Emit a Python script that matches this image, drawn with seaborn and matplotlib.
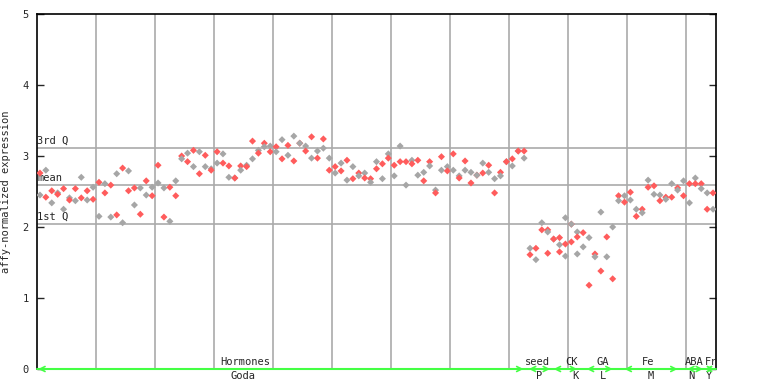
import numpy as np
import pandas as pd
import matplotlib
matplotlib.use("Agg")
import matplotlib.pyplot as plt
import seaborn as sns

# =========================
# Data
# =========================
# two replicate values per sample, sample index = position along x
rep_a = [2.76, 2.80, 2.51, 2.48, 2.54, 2.41, 2.54, 2.70, 2.51, 2.56,
         2.63, 2.61, 2.59, 2.75, 2.83, 2.79, 2.55, 2.55, 2.65, 2.56,
         2.87, 2.55, 2.56, 2.65, 3.00, 3.04, 3.08, 3.06, 3.01, 2.82,
         3.06, 3.03, 2.86, 2.69, 2.86, 2.87, 3.21, 3.08, 3.18, 3.14,
         3.13, 3.23, 3.15, 3.28, 3.18, 3.14, 3.27, 3.07, 3.24, 2.97,
         2.85, 2.90, 2.94, 2.85, 2.76, 2.76, 2.68, 2.92, 2.89, 3.03,
         2.87, 3.14, 2.92, 2.94, 2.94, 2.77, 2.92, 2.52, 2.99, 2.85,
         3.03, 2.72, 2.93, 2.77, 2.73, 2.90, 2.87, 2.68, 2.77, 2.92,
         2.96, 3.07, 3.07, 1.70, 1.70, 2.06, 1.96, 1.83, 1.85, 2.13,
         2.04, 1.93, 1.92, 1.85, 1.62, 2.21, 1.86, 2.00, 2.44, 2.44,
         2.49, 2.25, 2.25, 2.66, 2.58, 2.45, 2.42, 2.61, 2.55, 2.65,
         2.61, 2.69, 2.61, 2.48, 2.48]
rep_b = [2.45, 2.42, 2.34, 2.46, 2.25, 2.38, 2.37, 2.41, 2.38, 2.39,
         2.15, 2.48, 2.14, 2.17, 2.06, 2.51, 2.31, 2.18, 2.45, 2.44,
         2.62, 2.14, 2.08, 2.44, 2.96, 2.92, 2.85, 2.75, 2.85, 2.80,
         2.90, 2.90, 2.70, 2.69, 2.80, 2.85, 2.96, 3.04, 3.13, 3.06,
         3.06, 2.96, 3.01, 2.93, 3.18, 3.07, 2.97, 2.97, 3.11, 2.80,
         2.76, 2.79, 2.66, 2.68, 2.72, 2.69, 2.63, 2.82, 2.68, 2.97,
         2.72, 2.92, 2.59, 2.89, 2.73, 2.65, 2.86, 2.48, 2.80, 2.79,
         2.80, 2.69, 2.80, 2.62, 2.73, 2.76, 2.77, 2.48, 2.72, 2.92,
         2.86, 3.07, 2.97, 1.61, 1.54, 1.96, 1.93, 1.83, 1.75, 1.76,
         2.04, 1.86, 1.72, 1.18, 1.58, 1.38, 1.58, 1.27, 2.37, 2.35,
         2.38, 2.15, 2.20, 2.56, 2.46, 2.37, 2.39, 2.42, 2.52, 2.44,
         2.34, 2.61, 2.54, 2.25, 2.25]
# third replicate where present
extra_idx = [86, 88, 89, 90, 91]
extra_val = [1.63, 1.65, 1.59, 1.79, 1.62]

q1, mean_val, q3 = 2.04, 2.59, 3.11

top_labels = ["Hormones", "seed", "CK", "GA", "Fe", "ABA", "Fr"]
top_label_pos = [34.7, 84.2, 90.1, 95.4, 103.0, 110.8, 113.7]
bottom_labels = ["Goda", "P", "K", "L", "M", "N", "Y"]
bottom_label_pos = [34.4, 84.5, 90.6, 95.4, 103.5, 110.3, 113.3]
group_start = [-0.3, 82.8, 87.0, 92.6, 99.0, 109.6, 112.6]
group_end = [81.9, 86.4, 91.0, 97.0, 108.0, 112.3, 114.2]

# =========================
# Build long table
# =========================
n = len(rep_a)
df = pd.DataFrame({
    "sample": list(range(n)) * 2 + extra_idx,
    "expr": rep_a + rep_b + extra_val,
    "rep": ["a"] * n + ["b"] * n + ["a"] * len(extra_idx),
})
# alternate colours between samples like the reference
df["col"] = np.where((df["sample"] % 2 == 0) == (df["rep"] == "a"), "red", "grey")

# =========================
# Plot
# =========================
sns.set_style("white")
plt.rcParams["font.family"] = ["DejaVu Sans Mono"]

fig = plt.figure(figsize=(7.68, 3.84), dpi=100)
ax = fig.add_axes([37 / 768, 1 - 369 / 384, 679 / 768, 355 / 384])

sns.scatterplot(
    data=df, x="sample", y="expr", hue="col",
    palette={"red": "#ff5c5c", "grey": "#a6a6a6"},
    marker="D", s=13, linewidth=0, legend=False, ax=ax, zorder=3,
)

ax.set_xlim(-0.5, 114.5)
ax.set_ylim(0, 5)

# vertical grid lines every 10 samples
for gx in np.arange(9.5, 114.5, 10):
    ax.axvline(gx, color="#aaaaaa", lw=1.2, zorder=1)

# quartile / mean lines
for val, name in [(q3, "3rd Q"), (mean_val, "mean"), (q1, "1st Q")]:
    ax.axhline(val, color="#aaaaaa", lw=1.2, zorder=1)
    ax.text(-0.45, val + 0.03, name, fontsize=7.5, ha="left", va="bottom", zorder=2)

# group arrows and labels along the bottom
ax.axhline(0, color="#44ff44", lw=1.5, zorder=4, clip_on=False)
for s0, s1 in zip(group_start, group_end):
    ax.annotate("", xy=(s1, 0), xytext=(s0, 0),
                arrowprops=dict(arrowstyle="<->", color="#44ff44", lw=1.2,
                                shrinkA=0, shrinkB=0, mutation_scale=9),
                annotation_clip=False, zorder=5)
for lab, pos in zip(top_labels, top_label_pos):
    ax.text(pos, 0.03, lab, fontsize=7.5, ha="center", va="bottom", zorder=6)
for lab, pos in zip(bottom_labels, bottom_label_pos):
    ax.text(pos, -0.03, lab, fontsize=7.5, ha="center", va="top", clip_on=False)

ax.set_yticks([0, 1, 2, 3, 4, 5])
ax.set_yticklabels(["0", "1", "2", "3", "4", "5"], fontsize=7.5)
ax.set_xticks([])
ax.tick_params(axis="y", direction="in", length=5, width=1, pad=6, right=True, left=True)
ax.set_xlabel("")
ax.set_ylabel("affy-normalized expression", fontsize=7.5, labelpad=8)

for side in ["left", "right", "top"]:
    ax.spines[side].set_color("black")
    ax.spines[side].set_linewidth(1.2)
ax.spines["bottom"].set_visible(False)

fig.savefig("out.png", dpi=100)
